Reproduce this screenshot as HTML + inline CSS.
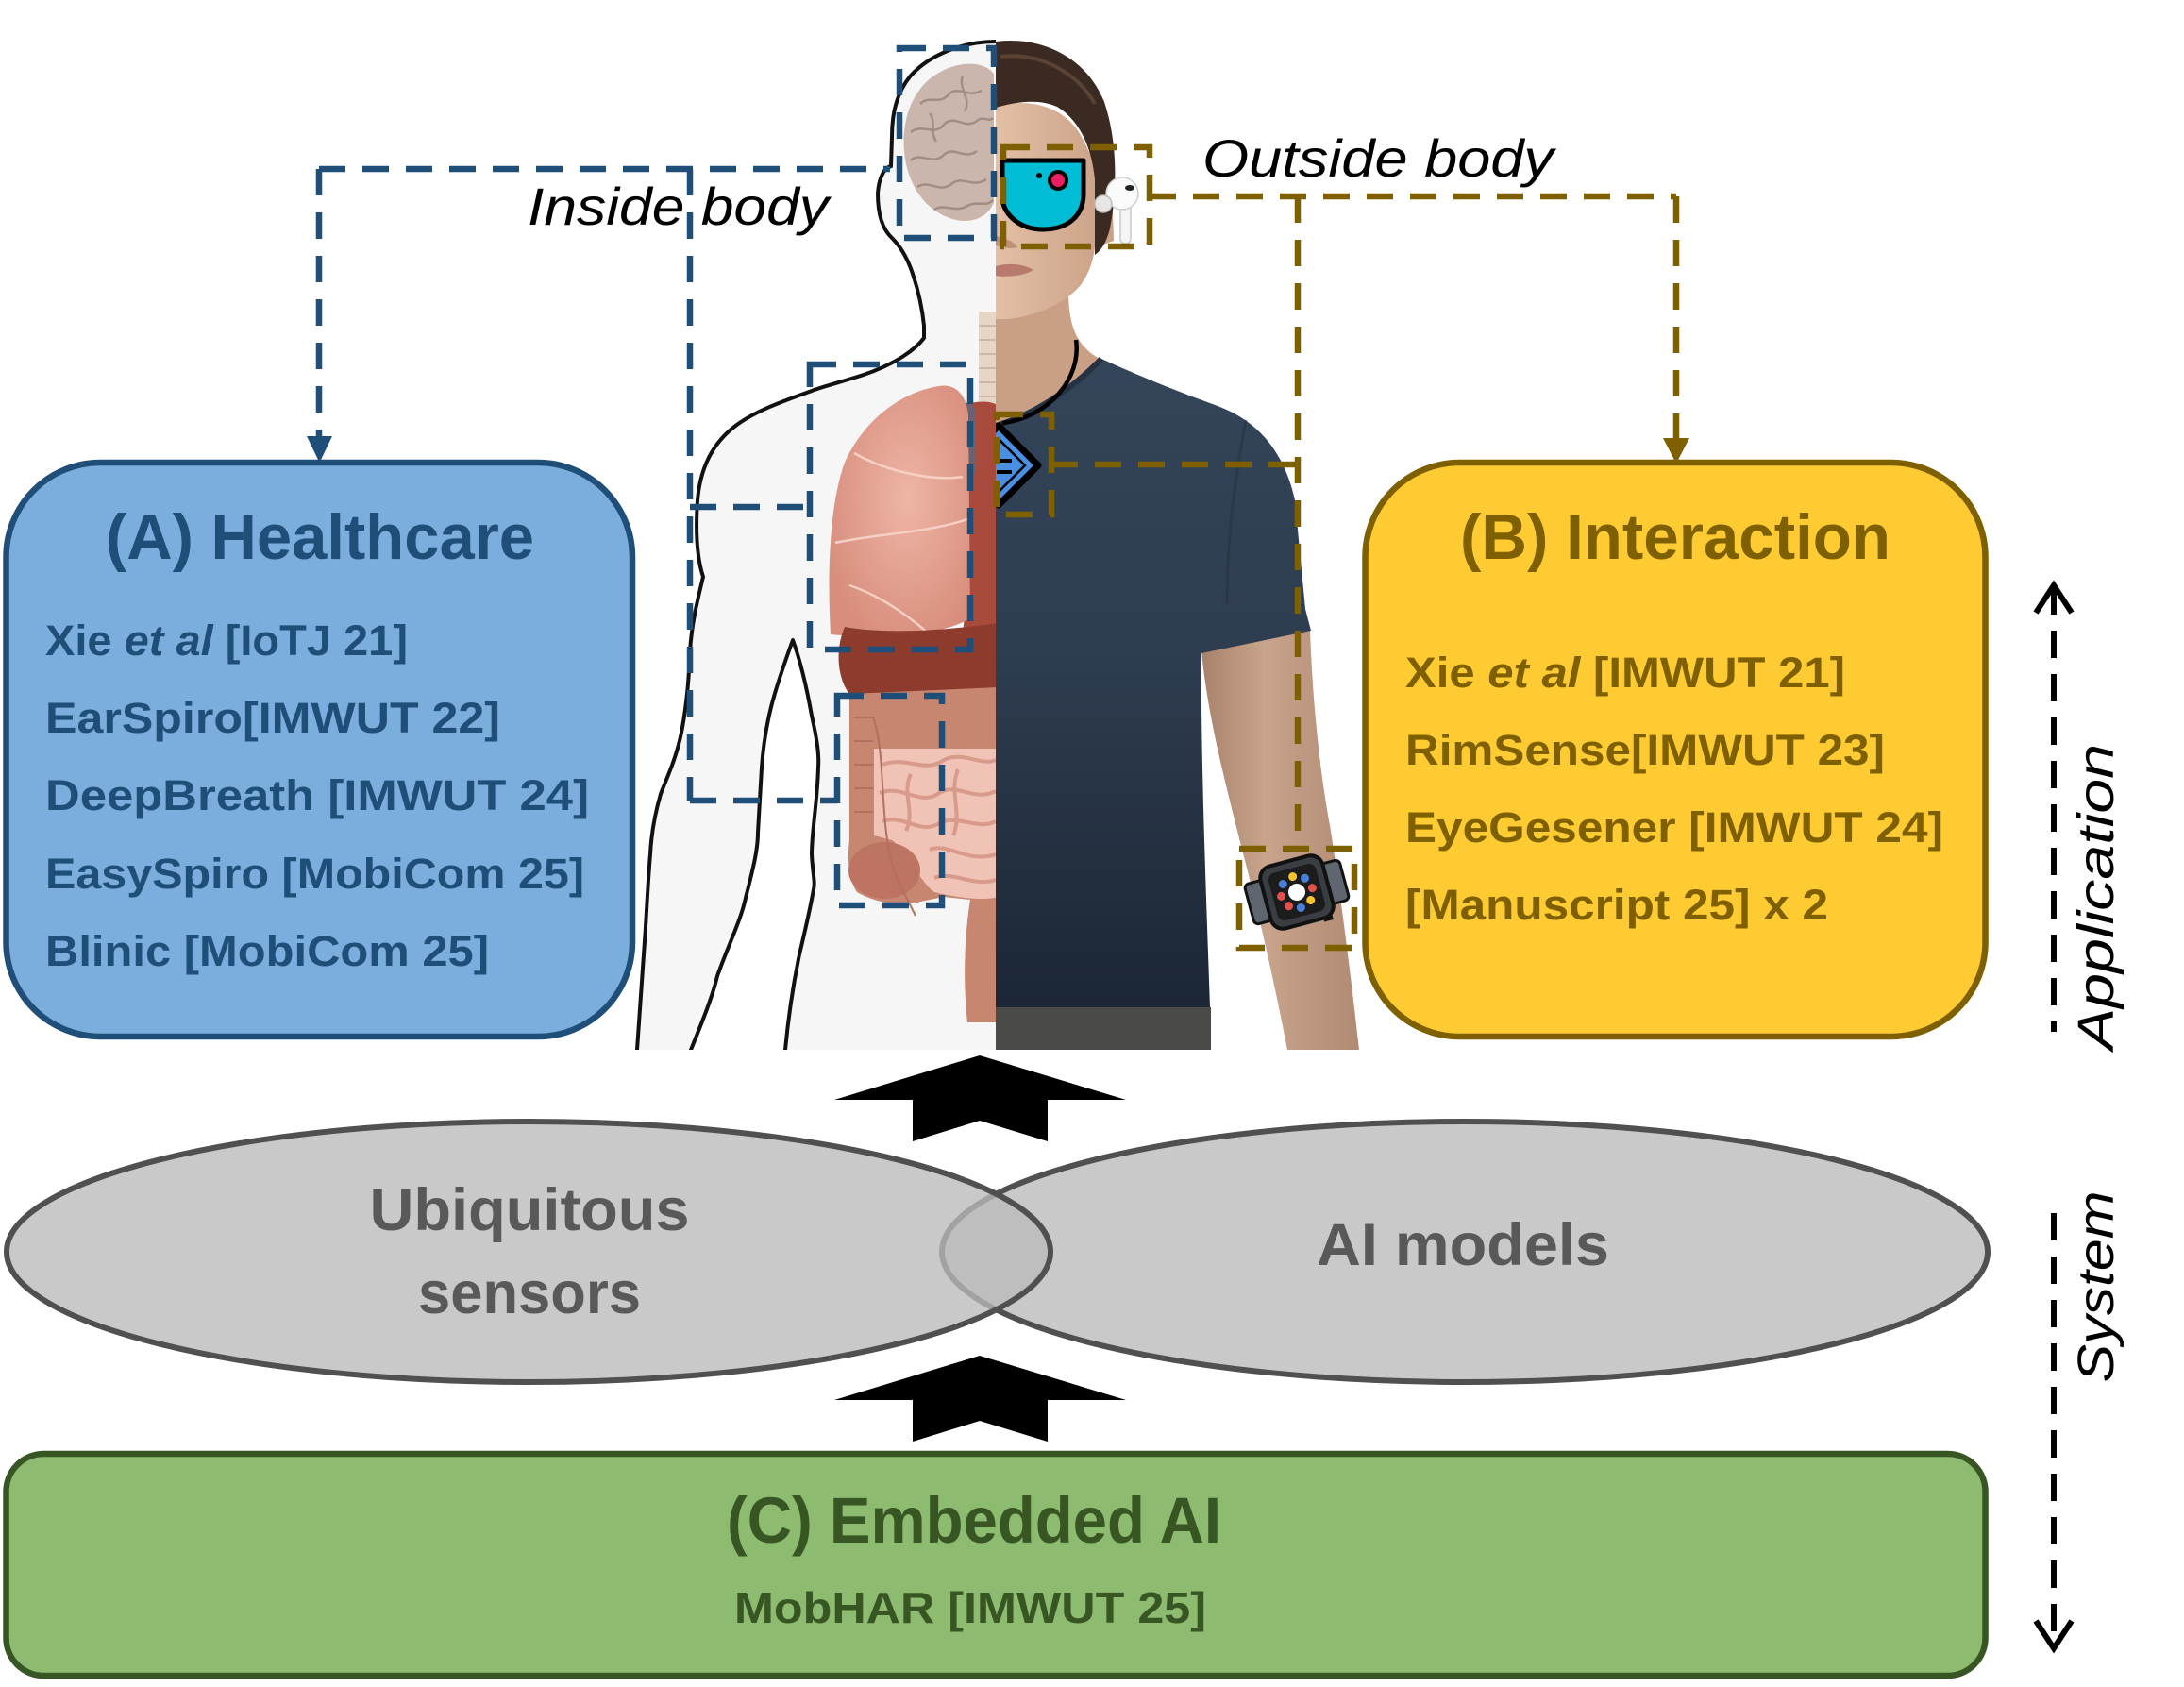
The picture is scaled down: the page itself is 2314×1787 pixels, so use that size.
<!DOCTYPE html>
<html>
<head>
<meta charset="utf-8">
<style>
  html, body { margin:0; padding:0; background:#ffffff; }
  body { width:2314px; height:1787px; overflow:hidden; }
  svg { display:block; }
  text { font-family: "Liberation Sans", Arial, sans-serif; }
</style>
</head>
<body>
<svg width="2314" height="1787" viewBox="0 0 2314 1787" xmlns="http://www.w3.org/2000/svg">
  <defs>
    <clipPath id="leftHalf"><rect x="600" y="0" width="455" height="1112"/></clipPath>
    <clipPath id="rightHalf"><rect x="1055" y="0" width="400" height="1112"/></clipPath>
    <clipPath id="leftEll"><ellipse cx="560" cy="1326" rx="553" ry="138"/></clipPath>
    <linearGradient id="shirtG" x1="0" y1="0" x2="0" y2="1">
      <stop offset="0" stop-color="#34455a"/>
      <stop offset="0.45" stop-color="#2e3d50"/>
      <stop offset="1" stop-color="#1c2634"/>
    </linearGradient>
    <linearGradient id="armG" x1="0" y1="0" x2="1" y2="0">
      <stop offset="0" stop-color="#a8826c"/>
      <stop offset="0.4" stop-color="#c9a48c"/>
      <stop offset="1" stop-color="#b08a72"/>
    </linearGradient>
    <linearGradient id="faceG" x1="0" y1="0" x2="1" y2="0">
      <stop offset="0" stop-color="#e2bfa5"/>
      <stop offset="1" stop-color="#c99f85"/>
    </linearGradient>
    <radialGradient id="lungG" cx="0.55" cy="0.45" r="0.6">
      <stop offset="0" stop-color="#eeb5a6"/>
      <stop offset="1" stop-color="#d88e7d"/>
    </radialGradient>
  </defs>

  <!-- (A) Healthcare box -->
  <rect x="6.5" y="490" width="663.5" height="608" rx="100" ry="100" fill="#7BAEDD" stroke="#1F4E79" stroke-width="6.5"/>
  <text x="339" y="592" text-anchor="middle" font-size="68" font-weight="bold" fill="#1F4E79" textLength="454" lengthAdjust="spacingAndGlyphs">(A) Healthcare</text>
  <g font-size="45" font-weight="bold" fill="#1F4E79">
    <text x="48" y="694" textLength="384" lengthAdjust="spacingAndGlyphs">Xie <tspan font-style="italic">et al</tspan> [IoTJ 21]</text>
    <text x="48" y="776" textLength="482" lengthAdjust="spacingAndGlyphs">EarSpiro[IMWUT 22]</text>
    <text x="48" y="858" textLength="576" lengthAdjust="spacingAndGlyphs">DeepBreath [IMWUT 24]</text>
    <text x="48" y="941" textLength="571" lengthAdjust="spacingAndGlyphs">EasySpiro [MobiCom 25]</text>
    <text x="48" y="1023" textLength="470" lengthAdjust="spacingAndGlyphs">Blinic [MobiCom 25]</text>
  </g>

  <!-- (B) Interaction box -->
  <rect x="1446.5" y="490" width="657" height="608" rx="100" ry="100" fill="#FFCB33" stroke="#7F6000" stroke-width="6.5"/>
  <text x="1775" y="592" text-anchor="middle" font-size="68" font-weight="bold" fill="#7F6000" textLength="456" lengthAdjust="spacingAndGlyphs">(B) Interaction</text>
  <g font-size="45" font-weight="bold" fill="#7F6000">
    <text x="1489" y="728" textLength="466" lengthAdjust="spacingAndGlyphs">Xie <tspan font-style="italic">et al</tspan> [IMWUT 21]</text>
    <text x="1489" y="810" textLength="508" lengthAdjust="spacingAndGlyphs">RimSense[IMWUT 23]</text>
    <text x="1489" y="892" textLength="570" lengthAdjust="spacingAndGlyphs">EyeGesener [IMWUT 24]</text>
    <text x="1489" y="974" textLength="448" lengthAdjust="spacingAndGlyphs">[Manuscript 25] x 2</text>
  </g>

  <!-- (C) Embedded AI box -->
  <rect x="6.5" y="1540" width="2097" height="235" rx="40" ry="40" fill="#8DBB6F" stroke="#375623" stroke-width="6.5"/>
  <text x="1032" y="1634" text-anchor="middle" font-size="69" font-weight="bold" fill="#375623" textLength="524" lengthAdjust="spacingAndGlyphs">(C) Embedded AI</text>
  <text x="1028" y="1719" text-anchor="middle" font-size="46" font-weight="bold" fill="#375623" textLength="500" lengthAdjust="spacingAndGlyphs">MobHAR [IMWUT 25]</text>

  <!-- Ellipses -->
  <ellipse cx="1552" cy="1326" rx="554" ry="138" fill="#C9C9C9" stroke="#505050" stroke-width="6"/>
  <ellipse cx="560" cy="1326" rx="553" ry="138" fill="#C9C9C9"/>
  <g clip-path="url(#leftEll)">
    <ellipse cx="1552" cy="1326" rx="554" ry="138" fill="rgba(0,0,0,0.05)" stroke="#a2a2a2" stroke-width="6"/>
  </g>
  <ellipse cx="560" cy="1326" rx="553" ry="138" fill="none" stroke="#505050" stroke-width="6"/>
  <g font-size="63" font-weight="bold" fill="#595959" text-anchor="middle">
    <text x="561" y="1303" textLength="339" lengthAdjust="spacingAndGlyphs">Ubiquitous</text>
    <text x="561" y="1391" textLength="236" lengthAdjust="spacingAndGlyphs">sensors</text>
    <text x="1550" y="1340" textLength="310" lengthAdjust="spacingAndGlyphs">AI models</text>
  </g>

  <!-- Block arrows -->
  <polygon points="1038,1118 1193,1165 1110,1165 1110,1209 1038,1187 967,1209 967,1165 884,1165" fill="#000"/>
  <polygon points="1038,1436 1193,1483 1110,1483 1110,1527 1038,1505 967,1527 967,1483 884,1483" fill="#000"/>

  <!-- ============ BODY ILLUSTRATION ============ -->
  <g clip-path="url(#leftHalf)">
    <path d="M1055 44 C1020 44 985 58 965 80 C950 98 945 120 945 145 L944 176 C936 178 931 190 930 205 C930 225 934 242 945 252 C955 262 962 275 967 290 C972 305 977 325 979 345 L979 358 C970 370 950 385 915 397 C890 405 870 410 860 414 C830 425 800 435 778 452 C755 470 742 495 739 530 C737 560 738 590 745 611 C738 640 733 660 731 690 C730 720 727 750 722 776 C716 805 706 825 700 841 C693 865 690 885 689 905 C686 940 685 970 683 997 C680 1040 677 1080 675 1112 L732 1112 C745 1080 755 1055 760 1034 C772 1000 785 975 790 951 C798 920 803 900 803 882 C805 850 806 830 807 813 C809 785 813 765 817 749 C823 725 832 700 840 678 C848 700 855 730 860 758 C866 785 868 800 867 813 C866 850 860 880 860 905 C861 925 864 935 862 942 C858 965 852 990 847 1011 C840 1045 835 1080 832 1112 L1060 1112 L1060 44 Z" fill="#f6f6f6"/>
    <g fill="none" stroke="#111" stroke-width="4" stroke-linejoin="round" stroke-linecap="round">
      <path d="M1055 44 C1020 44 985 58 965 80 C950 98 945 120 945 145 L944 176 C936 178 931 190 930 205 C930 225 934 242 945 252 C955 262 962 275 967 290 C972 305 977 325 979 345 L979 358 C970 370 950 385 915 397 C890 405 870 410 860 414 C830 425 800 435 778 452 C755 470 742 495 739 530 C737 560 738 590 745 611 C738 640 733 660 731 690 C730 720 727 750 722 776 C716 805 706 825 700 841 C693 865 690 885 689 905 C686 940 685 970 683 997 C680 1040 677 1080 675 1112"/>
      <path d="M732 1112 C745 1080 755 1055 760 1034 C772 1000 785 975 790 951 C798 920 803 900 803 882 C805 850 806 830 807 813 C809 785 813 765 817 749 C823 725 832 700 840 678 C848 700 855 730 860 758 C866 785 868 800 867 813 C866 850 860 880 860 905 C861 925 864 935 862 942 C858 965 852 990 847 1011 C840 1045 835 1080 832 1112"/>
    </g>
    <!-- brain -->
    <path d="M1053 78 C1040 62 1010 66 990 80 C966 96 955 128 958 160 C961 195 980 225 1013 233 C1033 237 1048 228 1053 214 Z" fill="#cbb6ae"/>
    <g fill="none" stroke="#a38c84" stroke-width="2.5">
      <path d="M975 110 C985 100 995 112 1005 100 C1015 90 1025 104 1040 96"/>
      <path d="M965 140 C978 130 990 145 1000 132 C1012 120 1022 138 1035 128 C1042 122 1048 130 1052 125"/>
      <path d="M965 170 C975 160 988 176 1000 164 C1010 154 1022 170 1035 160"/>
      <path d="M972 198 C985 190 995 205 1008 195 C1020 185 1030 200 1045 190"/>
      <path d="M990 222 C1000 215 1012 226 1025 218 C1035 212 1045 220 1052 212"/>
      <path d="M1020 80 C1015 95 1030 105 1022 118"/>
      <path d="M985 120 C992 128 985 140 992 150"/>
    </g>
    <!-- trachea -->
    <rect x="1037" y="330" width="18" height="105" fill="#e7d6c6"/>
    <g stroke="#cdb8a6" stroke-width="2">
      <line x1="1037" y1="345" x2="1055" y2="345"/><line x1="1037" y1="360" x2="1055" y2="360"/>
      <line x1="1037" y1="375" x2="1055" y2="375"/><line x1="1037" y1="390" x2="1055" y2="390"/>
      <line x1="1037" y1="405" x2="1055" y2="405"/><line x1="1037" y1="420" x2="1055" y2="420"/>
    </g>
    <!-- heart / mediastinum -->
    <path d="M1018 430 C1035 424 1050 424 1058 430 L1058 672 L1020 672 C1028 600 1028 500 1018 430 Z" fill="#a84a3c"/>
    <path d="M1013 430 C1022 424 1032 426 1034 436 L1034 500 C1028 505 1018 502 1015 495 Z" fill="#6d6070"/>
    <!-- lung -->
    <path d="M995 409 C1012 406 1024 418 1026 440 L1028 655 C1000 672 940 678 880 672 C876 600 880 530 895 490 C915 445 955 415 995 409 Z" fill="url(#lungG)"/>
    <g fill="none" stroke="#f6d0c5" stroke-width="2.5">
      <path d="M885 575 C930 565 980 565 1025 550"/>
      <path d="M905 480 C940 500 990 510 1020 505"/>
      <path d="M900 620 C930 630 960 650 985 672"/>
    </g>
    <!-- liver band -->
    <path d="M895 664 C940 672 1000 668 1058 660 L1058 735 L900 735 C888 720 884 690 895 664 Z" fill="#8c3b2d"/>
    <!-- colon & intestines -->
    <path d="M900 735 L1058 728 L1058 1083 L1025 1083 C1020 1040 1022 990 1028 953 L1000 950 L975 955 C960 960 930 958 908 945 C898 930 898 905 900 890 Z" fill="#c7866f"/>
    <path d="M926 793 L1058 793 L1058 950 C1040 955 1010 950 990 945 C975 935 960 900 945 890 L926 885 Z" fill="#f0c3b6"/>
    <ellipse cx="937" cy="922" rx="38" ry="30" fill="#bd7462"/>
    <g fill="none" stroke="#d79a8b" stroke-width="4">
      <path d="M935 810 C960 800 980 820 1000 805 C1020 795 1040 812 1055 805"/>
      <path d="M932 840 C955 830 975 855 995 840 C1015 828 1030 850 1055 838"/>
      <path d="M935 870 C958 862 975 885 995 872 C1015 862 1035 880 1055 870"/>
      <path d="M985 900 C1005 892 1025 915 1055 905"/>
      <path d="M990 930 C1010 922 1030 940 1055 932"/>
      <path d="M965 820 C955 840 970 860 960 880"/>
      <path d="M1015 815 C1005 840 1020 860 1010 885"/>
    </g>
    <g fill="none" stroke="#b27060" stroke-width="2">
      <line x1="905" y1="760" x2="925" y2="760"/><line x1="905" y1="785" x2="925" y2="785"/>
      <line x1="905" y1="810" x2="925" y2="810"/><line x1="905" y1="835" x2="925" y2="835"/>
      <line x1="905" y1="860" x2="925" y2="860"/>
      <path d="M925 760 C940 800 930 880 950 930 L970 970"/>
    </g>
  </g>

  <!-- Right half: man -->
  <g clip-path="url(#rightHalf)">
    <path d="M1273 690 L1388 668 C1390 720 1395 800 1410 880 C1422 960 1432 1040 1440 1112 L1364 1112 C1350 1040 1332 960 1316 900 C1296 820 1280 760 1273 690 Z" fill="url(#armG)"/>
    <path d="M1055 320 L1132 312 C1133 345 1140 370 1172 383 C1140 412 1100 440 1055 455 Z" fill="#c9a085"/>
    <path d="M1055 453 C1100 440 1140 410 1167 380 C1200 395 1240 412 1290 430 C1330 445 1360 475 1372 530 L1383 645 L1389 668 L1273 692 C1272 800 1278 950 1282 1067 L1055 1067 Z" fill="url(#shirtG)"/>
    <path d="M1055 451 C1100 438 1140 408 1167 380" fill="none" stroke="#263242" stroke-width="6"/>
    <path d="M1320 445 C1310 500 1300 560 1300 640" fill="none" stroke="#26323f" stroke-width="3" opacity="0.6"/>
    <rect x="1055" y="1067" width="228" height="45" fill="#4a4a47"/>
    <path d="M1055 112 C1090 104 1125 112 1143 140 C1155 160 1160 175 1162 190 L1178 192 L1180 255 L1160 262 C1158 280 1152 292 1145 302 C1130 320 1100 335 1068 338 L1055 338 Z" fill="url(#faceG)"/>
    <path d="M1055 282 C1070 278 1085 280 1095 286 C1085 292 1068 294 1055 292 Z" fill="#b87a6c"/>
    <path d="M1055 250 C1065 252 1075 256 1078 262 C1070 264 1060 262 1055 260 Z" fill="#c08f78"/>
    <path d="M1055 44 C1100 38 1150 58 1170 108 C1184 150 1184 200 1176 242 C1172 258 1166 266 1160 270 L1160 190 C1156 150 1140 125 1120 113 C1100 104 1075 108 1055 114 Z" fill="#3b2a21"/>
    <path d="M1060 60 C1100 55 1140 75 1160 110" fill="none" stroke="#5a4334" stroke-width="4"/>
  </g>

  <path d="M1140 360 C1146 400 1112 442 1062 448" fill="none" stroke="#000" stroke-width="4.5"/>
  <g clip-path="url(#rightHalf)">
    <polygon points="1016,493 1058,451 1100,493 1058,535" fill="#4A90E2" stroke="#000" stroke-width="7" stroke-linejoin="round"/>
    <polygon points="1030,493 1058,465 1086,493 1058,521" fill="none" stroke="#000" stroke-width="2.5"/>
    <line x1="1056" y1="488" x2="1072" y2="488" stroke="#000" stroke-width="4"/>
    <line x1="1056" y1="500" x2="1072" y2="500" stroke="#000" stroke-width="4"/>
  </g>

  <path d="M1062 170 L1148 170 L1148 205 C1148 230 1130 243 1105 243 C1080 243 1065 228 1062 212 Z" fill="#00BCD4" stroke="#000" stroke-width="5" stroke-linejoin="round"/>
  <circle cx="1121" cy="191" r="9" fill="#E91E63" stroke="#000" stroke-width="4"/>
  <circle cx="1101" cy="186" r="3" fill="#000"/>

  <g>
    <rect x="1187" y="214" width="11" height="44" rx="5" fill="#f4f4f4" stroke="#c8c8c8" stroke-width="1.5"/>
    <circle cx="1189" cy="205" r="17" fill="#fafafa" stroke="#cfcfcf" stroke-width="1.5"/>
    <ellipse cx="1197" cy="199" rx="5" ry="3" fill="#222"/>
    <circle cx="1169" cy="216" r="9" fill="#e6e6e6" stroke="#bdbdbd" stroke-width="1.5"/>
  </g>

  <g transform="translate(1374,945) rotate(-15)">
    <rect x="-52" y="-22" width="24" height="44" rx="5" fill="#5f6670" stroke="#111" stroke-width="3"/>
    <rect x="28" y="-22" width="24" height="44" rx="5" fill="#5f6670" stroke="#111" stroke-width="3"/>
    <rect x="-34" y="-34" width="68" height="68" rx="13" fill="#3a3d42" stroke="#111" stroke-width="4"/>
    <rect x="-26" y="-26" width="52" height="52" rx="8" fill="#1c1c1c"/>
    <circle cx="0" cy="0" r="9" fill="#fff"/>
    <circle cx="0" cy="-17" r="4.5" fill="#F4C430"/>
    <circle cx="12" cy="-12" r="4.5" fill="#4A7FD8"/>
    <circle cx="17" cy="0" r="4.5" fill="#E0524F"/>
    <circle cx="12" cy="12" r="4.5" fill="#F4C430"/>
    <circle cx="0" cy="17" r="4.5" fill="#4A7FD8"/>
    <circle cx="-12" cy="12" r="4.5" fill="#E0524F"/>
    <circle cx="-17" cy="0" r="4.5" fill="#E0524F"/>
    <circle cx="-12" cy="-12" r="4.5" fill="#4A7FD8"/>
    <rect x="20" y="33" width="10" height="5" fill="#111"/>
  </g>

  <!-- ============ DASHED CONNECTORS ============ -->
  <g fill="none" stroke="#1F4E79" stroke-width="6.5" stroke-dasharray="28 18">
    <rect x="953" y="51" width="100" height="201"/>
    <rect x="858" y="386" width="170" height="302"/>
    <rect x="887" y="737" width="111" height="222"/>
    <line x1="731" y1="179" x2="731" y2="848"/>
    <line x1="731" y1="537" x2="858" y2="537"/>
    <line x1="731" y1="848" x2="887" y2="848"/>
    <line x1="338" y1="179" x2="943" y2="179"/>
    <line x1="338" y1="179" x2="338" y2="462"/>
  </g>
  <polygon points="325,462 352,462 338.5,490" fill="#1F4E79"/>

  <g fill="none" stroke="#7F6000" stroke-width="6.5" stroke-dasharray="28 18">
    <rect x="1063" y="156" width="155" height="105"/>
    <rect x="1056" y="439" width="58" height="106"/>
    <rect x="1313" y="899" width="122" height="105"/>
    <line x1="1218" y1="208" x2="1776" y2="208"/>
    <line x1="1776" y1="208" x2="1776" y2="464"/>
    <line x1="1375" y1="208" x2="1375" y2="899"/>
    <line x1="1114" y1="492" x2="1375" y2="492"/>
  </g>
  <polygon points="1762,464 1790,464 1776,491" fill="#7F6000"/>

  <text x="559" y="238" font-size="56" font-style="italic" fill="#000" textLength="319" lengthAdjust="spacingAndGlyphs">Inside body</text>
  <text x="1274" y="187" font-size="56" font-style="italic" fill="#000" textLength="372" lengthAdjust="spacingAndGlyphs">Outside body</text>

  <g fill="none" stroke="#000" stroke-width="6">
    <line x1="2176" y1="622" x2="2176" y2="1093" stroke-dasharray="29 17"/>
    <polyline points="2157,649 2176,620 2195,649" stroke-linejoin="miter"/>
    <line x1="2176" y1="1285" x2="2176" y2="1744" stroke-dasharray="29 17"/>
    <polyline points="2157,1717 2176,1746 2195,1717" stroke-linejoin="miter"/>
  </g>
  <text transform="translate(2239,950) rotate(-90)" text-anchor="middle" font-size="54" font-style="italic" fill="#000" textLength="324" lengthAdjust="spacingAndGlyphs">Application</text>
  <text transform="translate(2239,1363) rotate(-90)" text-anchor="middle" font-size="54" font-style="italic" fill="#000" textLength="203" lengthAdjust="spacingAndGlyphs">System</text>
</svg>
</body>
</html>
